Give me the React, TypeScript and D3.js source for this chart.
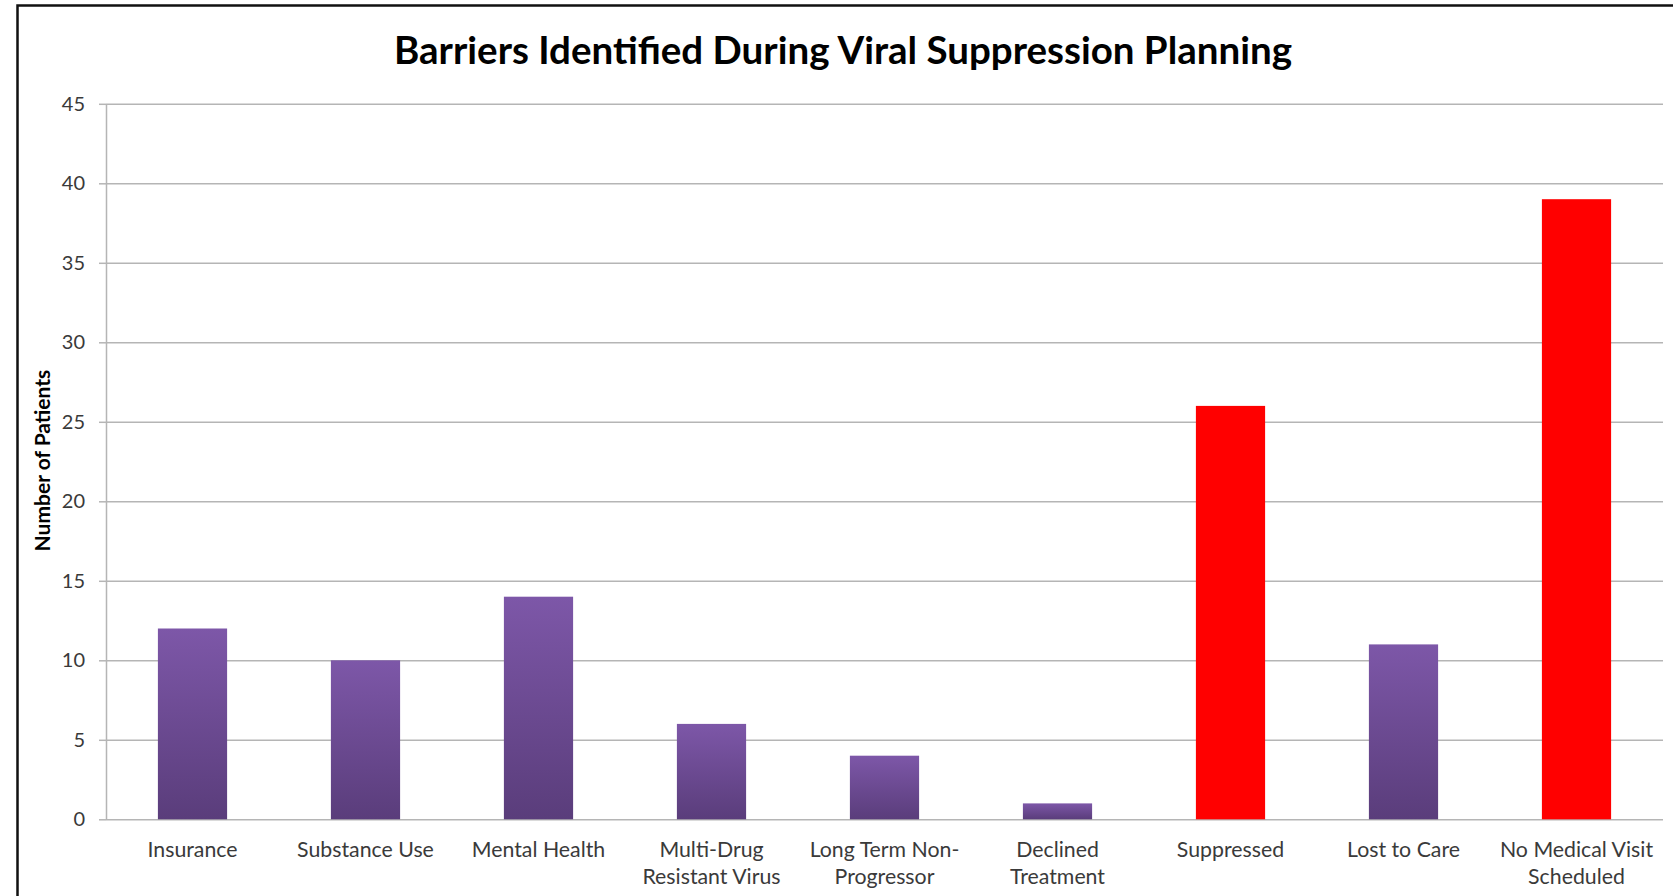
import React, { useRef, useEffect } from 'react';
import * as d3 from 'd3';

// Chart data
const categories = [
  'Insurance',
  'Substance Use',
  'Mental Health',
  'Multi-Drug Resistant Virus',
  'Long Term Non-Progressor',
  'Declined Treatment',
  'Suppressed',
  'Lost to Care',
  'No Medical Visit Scheduled'
];
const patients = [12, 10, 14, 6, 4, 1, 26, 11, 39];
const highlighted = ['Suppressed', 'No Medical Visit Scheduled'];
const yTicks = [0, 5, 10, 15, 20, 25, 30, 35, 40, 45];

const chartTitle = 'Barriers Identified During Viral Suppression Planning';
const yTitle = 'Number of Patients';

const WIDTH = 1673;
const HEIGHT = 896;
const FONT = 'Lato, "Open Sans", sans-serif';

const App = () => {
  const svgRef = useRef<SVGSVGElement>(null);

  useEffect(() => {
    if (!svgRef.current) return;
    const svg = d3.select(svgRef.current);
    svg.selectAll('*').remove();

    const left = 106;
    const right = 1663;
    const top = 103.8;
    const bottom = 819.3;

    const x = d3.scaleBand<string>()
      .domain(categories)
      .range([left, right])
      .paddingInner(0.6)
      .paddingOuter(0.3);

    const y = d3.scaleLinear()
      .domain([0, 45])
      .range([bottom, top]);

    // bar gradient
    const defs = svg.append('defs');
    const grad = defs.append('linearGradient')
      .attr('id', 'purpleBar')
      .attr('x1', 0).attr('y1', 0)
      .attr('x2', 0).attr('y2', 1);
    grad.append('stop').attr('offset', '0%').attr('stop-color', '#7d57a8');
    grad.append('stop').attr('offset', '100%').attr('stop-color', '#5a3d7b');

    // outer frame (cropped chart border)
    svg.append('path')
      .attr('d', `M17.5,${HEIGHT} L17.5,5.5 L${WIDTH},5.5`)
      .attr('fill', 'none')
      .attr('stroke', '#111')
      .attr('stroke-width', 2.5);

    // gridlines
    svg.append('g')
      .attr('transform', `translate(${left},0)`)
      .call(d3.axisLeft(y).tickValues(yTicks).tickSize(-(right - left)).tickFormat(() => ''))
      .call(g => g.select('.domain').remove())
      .call(g => g.selectAll('.tick line').attr('stroke', '#b5b5b5').attr('stroke-width', 1.5));

    // y axis with ticks
    svg.append('g')
      .attr('transform', `translate(${left},0)`)
      .call(d3.axisLeft(y).tickValues(yTicks).tickSize(7).tickSizeOuter(0).tickPadding(14))
      .call(g => g.select('.domain').attr('stroke', '#b5b5b5').attr('stroke-width', 1.5))
      .call(g => g.selectAll('.tick line').attr('stroke', '#b5b5b5').attr('stroke-width', 1.5))
      .call(g => g.selectAll('.tick text')
        .attr('font-family', FONT)
        .attr('font-size', 20)
        .attr('fill', '#3a3a3a'));

    // bars
    svg.append('g')
      .selectAll('rect')
      .data(categories)
      .enter()
      .append('rect')
      .attr('x', d => x(d) as number)
      .attr('y', (d, i) => y(patients[i]))
      .attr('width', x.bandwidth())
      .attr('height', (d, i) => y(0) - y(patients[i]))
      .attr('fill', d => highlighted.includes(d) ? '#ff0000' : 'url(#purpleBar)');

    // category labels, wrapped to the band step
    const maxWidth = x.step() * 0.95;
    const labels = svg.append('g')
      .attr('font-family', FONT)
      .attr('font-size', 21.3)
      .attr('fill', '#3a3a3a')
      .attr('text-anchor', 'middle');

    categories.forEach(cat => {
      const cx = (x(cat) as number) + x.bandwidth() / 2;
      const text = labels.append('text').attr('x', cx).attr('y', 856.5);
      // split on spaces and after hyphens
      const tokens = cat.match(/[^\s-]+-?/g) || [cat];
      const lines: string[] = [];
      let current = '';
      const probe = text.append('tspan');
      tokens.forEach(tok => {
        const sep = current === '' || current.endsWith('-') ? '' : ' ';
        const trial = current + sep + tok;
        probe.text(trial);
        const w = (probe.node() as SVGTSpanElement).getComputedTextLength();
        if (w > maxWidth && current !== '') {
          lines.push(current);
          current = tok;
        } else {
          current = trial;
        }
      });
      if (current) lines.push(current);
      probe.remove();
      lines.forEach((line, i) => {
        text.append('tspan')
          .attr('x', cx)
          .attr('dy', i === 0 ? 0 : 27.3)
          .text(line);
      });
    });

    // y axis title
    svg.append('text')
      .attr('transform', `translate(50,${(top + bottom) / 2 - 1}) rotate(-90)`)
      .attr('text-anchor', 'middle')
      .attr('font-family', FONT)
      .attr('font-weight', 700)
      .attr('font-size', 21)
      .attr('fill', '#000')
      .text(yTitle);

    // chart title
    svg.append('text')
      .attr('x', 843)
      .attr('y', 63.5)
      .attr('text-anchor', 'middle')
      .attr('font-family', FONT)
      .attr('font-weight', 700)
      .attr('font-size', 38.5)
      .attr('fill', '#000')
      .text(chartTitle);
  }, []);

  return (
    <svg
      ref={svgRef}
      width={WIDTH}
      height={HEIGHT}
      style={{ position: 'absolute', left: 0, top: 0, background: '#fff' }}
    />
  );
};

export default App;
